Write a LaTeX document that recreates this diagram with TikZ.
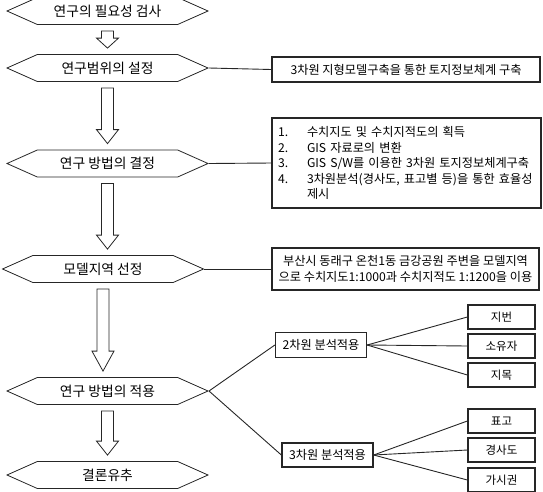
\documentclass[tikz,border=0pt]{standalone}
\usepackage{fontspec}
\setmainfont{Noto Sans CJK KR}
\usepackage{tikz}
\usetikzlibrary{calc}
\usetikzlibrary{shapes.symbols}
\usetikzlibrary{positioning}
\def\linecolor{black!85}
% hollow block arrow from one stage to the next (optional arg: head length)
\newcommand{\hollowarrow}[3][14]{%
  \draw[hollow arrow] ($(#2.south)+(-6,6)$) -- ($(#2.south |- #3.north)+(-6,-6-#1)$)
    -- ($(#2.south |- #3.north)+(-11,-6-#1)$) -- ($(#2.south |- #3.north)+(0,-6)$)
    -- ($(#2.south |- #3.north)+(11,-6-#1)$) -- ($(#2.south |- #3.north)+(6,-6-#1)$)
    -- ($(#2.south)+(6,6)$) -- cycle;}

\begin{document}
\begin{tikzpicture}[
            x=1pt, y=-1pt,
            stage/.style={signal, signal to=west and east, signal pointer angle=48,
                          draw=\linecolor, line width=0.8pt, minimum width=201pt,
                          minimum height=27pt, inner sep=0pt,
                          font=\fontsize{13.8}{15}\selectfont},
            infobox/.style={rectangle, draw=\linecolor, line width=1.3pt,
                            inner sep=0pt, font=\fontsize{12.2}{15.5}\selectfont},
            leaf/.style={rectangle, draw=\linecolor, line width=1.3pt,
                         minimum width=67pt, minimum height=24pt, inner sep=0pt,
                         font=\fontsize{11.5}{13}\selectfont},
            link/.style={draw=\linecolor, line width=0.9pt},
            hollow arrow/.style={draw=\linecolor, line width=0.8pt, line join=miter},
        ]
        \useasboundingbox (0,0) rectangle (543,491);

        % Research steps (left column)
        \node[stage] (need) at (107.5,11) {연구의 필요성 검사};
        \node[stage] (scope) at (107.5,68) {연구범위의 설정};
        \node[stage] (method) at (107.5,163.5) {연구 방법의 결정};
        \node[stage] (model) at (103,269) {모델지역 선정};
        \node[stage] (apply) at (107.5,391) {연구 방법의 적용};
        \node[stage] (result) at (107.5,475) {결론유추};

        % Arrows between the steps
        \hollowarrow[10]{need}{scope}
        \hollowarrow{scope}{method}
        \hollowarrow{method}{model}
        \hollowarrow[20]{model}{apply}
        \hollowarrow{apply}{result}

        % Notes for the steps (right column)
        \node[infobox, minimum width=268pt, minimum height=25pt] (goal) at (406,69.5)
            {3차원 지형모델구축을 통한 토지정보체계 구축};
        \node[infobox, minimum height=90pt, text width=257pt, inner xsep=6pt, align=left]
            (tasks) at (406.5,163) {%
            \makebox[29pt][l]{1.}수치지도 및 수치지적도의 획득\\
            \makebox[29pt][l]{2.}GIS 자료로의 변환\\
            \makebox[29pt][l]{3.}GIS S/W를 이용한 3차원 토지정보체계구축\\
            \makebox[29pt][l]{4.}3차원분석(경사도, 표고별 등)을 통한 효율성\\
            \makebox[29pt][l]{}제시};
        \node[infobox, minimum width=267pt, minimum height=42pt, align=center]
            (area) at (405.5,269) {부산시 동래구 온천1동 금강공원 주변을 모델지역\\
            으로 수치지도1:1000과 수치지적도 1:1200을 이용};

        \draw[link] (scope.east) -- (goal.west);
        \draw[link] (method.east) -- (tasks.west);
        \draw[link] (model.east) -- (area.west);

        % Analysis branches
        \node[infobox, minimum width=91pt, minimum height=25pt] (twod) at (321,345) {2차원 분석적용};
        \node[infobox, minimum width=91pt, minimum height=24pt] (threed) at (327.5,455) {3차원 분석적용};
        \draw[link] (apply.east) -- (twod.west);
        \draw[link] (apply.east) -- (threed.west);

        \node[leaf] (lotno) at (501.5,317) {지번};
        \node[leaf] (owner) at (501.5,346) {소유자};
        \node[leaf] (landuse) at (501.5,375) {지목};
        \node[leaf] (height) at (501.5,421) {표고};
        \node[leaf] (slope) at (501.5,450) {경사도};
        \node[leaf] (view) at (501.5,480) {가시권};

        \draw[link] (twod.east) -- (lotno.west);
        \draw[link] (twod.east) -- (owner.west);
        \draw[link] (twod.east) -- (landuse.west);
        \draw[link] (threed.east) -- (height.west);
        \draw[link] (threed.east) -- (slope.west);
        \draw[link] (threed.east) -- (view.west);

        \end{tikzpicture}
\end{document}
